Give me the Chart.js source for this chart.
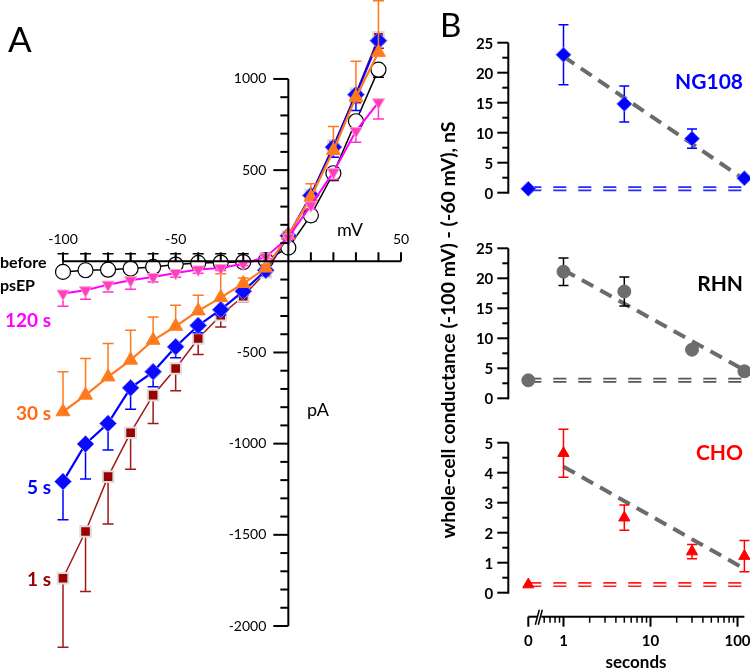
<!DOCTYPE html>
<html><head><meta charset="utf-8">
<script src="https://cdn.jsdelivr.net/npm/chart.js@4.4.1/dist/chart.umd.min.js"></script>
<style>
body{margin:0;width:750px;height:668px;overflow:hidden;background:#fff;font-family:Lato,sans-serif;position:relative;}
canvas{position:absolute;left:0;top:0;}
.l{position:absolute;white-space:nowrap;line-height:1;}
.b{font-weight:bold;}
</style></head><body>
<canvas id="cA" width="750" height="668"></canvas>
<canvas id="cB1" width="750" height="668"></canvas>
<canvas id="cB2" width="750" height="668"></canvas>
<canvas id="cB3" width="750" height="668"></canvas>

<div class="l" style="left:8px;top:21px;font-size:35px;">A</div>
<div class="l" style="left:440px;top:8px;font-size:33px;">B</div>
<div class="l b" style="left:0px;top:262px;transform:translateY(-50%);font-size:16px;">before</div>
<div class="l b" style="left:0px;top:285px;transform:translateY(-50%);font-size:16px;">psEP</div>
<div class="l b" style="left:51px;top:319px;transform:translate(-100%,-50%);font-size:19px;color:#ff00ff;">120 s</div>
<div class="l b" style="left:51px;top:412px;transform:translate(-100%,-50%);font-size:19px;color:#ff6a10;">30 s</div>
<div class="l b" style="left:51px;top:486px;transform:translate(-100%,-50%);font-size:19px;color:#0000ff;">5 s</div>
<div class="l b" style="left:51px;top:578px;transform:translate(-100%,-50%);font-size:19px;color:#990000;">1 s</div>
<div class="l" style="left:350px;top:229px;transform:translate(-50%,-50%);font-size:18px;">mV</div>
<div class="l" style="left:318px;top:409px;transform:translate(-50%,-50%);font-size:18px;">pA</div>
<div class="l b" style="left:743px;top:80px;transform:translate(-100%,-50%);font-size:21px;color:#0000ff;">NG108</div>
<div class="l b" style="left:743px;top:282px;transform:translate(-100%,-50%);font-size:21px;color:#000;">RHN</div>
<div class="l b" style="left:743px;top:451px;transform:translate(-100%,-50%);font-size:21px;color:#ff0000;">CHO</div>
<div class="l b" style="left:636px;top:661px;transform:translate(-50%,-50%);font-size:17px;">seconds</div>
<div class="l b" style="left:448px;top:330px;transform:translate(-50%,-50%) rotate(-90deg);font-size:19.5px;">whole-cell conductance (-100 mV) - (-60 mV), nS</div>

<script>
// ---------- Panel A data ----------
const voltages = [-100,-90,-80,-70,-60,-50,-40,-30,-20,-10,0,10,20,30,40];
const beforeI  = [-58,-49,-46,-40,-31,-18,-9,-7,-4,5,75,252,483,768,1051];
const beforeErr= [100,91,88,82,73,60,51,49,46,38,-20,-30,-40,-40,-42];
const s120I    = [-177,-159,-128,-104,-86,-64,-45,-37,-13,24,131,307,489,714,872];
const s120Err  = [-69,-49,-40,-49,-27,-24,-20,-14,-10,-8,-10,-20,-40,-61,-91];
const s30I     = [-825,-734,-634,-542,-433,-356,-272,-199,-122,-37,142,352,608,900,1146];
const s30Err   = [219,201,183,164,128,115,86,131,30,20,20,73,131,197,283];
const s5I      = [-1208,-1002,-889,-694,-606,-469,-352,-265,-164,-49,140,361,626,914,1210];
const s5Err    = [-210,-192,-146,-118,-82,-60,-40,-30,-20,-10,-20,-27,-55,-87,-80];
const s1I      = [-1738,-1482,-1181,-940,-734,-588,-423,-296,-192,-60,135,365,635,920,1228];
const s1Err    = [-379,-329,-259,-201,-155,-122,-88,-64,-30,-15,-20,-30,-40,-50,-60];

const aXTickLabels = [-100,-50,50];
const aYTickLabels = [1000,500,-500,-1000,-1500,-2000];

// ---------- Panel B data ----------
const times   = [0,1,5,30,120];
const ng108   = [0.65,23.0,14.8,9.0,2.4];
const ng108Err= [0,5.0,3.0,1.6,0.3];
const rhn     = [3.0,21.1,17.8,8.1,4.5];
const rhnErr  = [0,2.3,2.4,0.6,0.3];
const cho     = [0.27,4.65,2.5,1.37,1.22];
const choErr  = [0,0.8,0.42,0.24,0.52];
const fitTimes= [1,120];
const ng108Fit= [22.7,2.2];
const rhnFit  = [21.4,4.7];
const choFit  = [4.2,0.8];
const bXTickLabels = ['0','1','10','100'];
const bXMajor = [1,10,100];
const bXMinor = [0.6,0.7,0.8,0.9,2,3,4,5,6,7,8,9,20,30,40,50,60,70,80,90];

// axis representation of t=0 on the broken log axis
const X0 = 0.394, XMAX = 120;
const tx = t => (t === 0 ? X0 : t);

const pts = (xs, ys) => xs.map((x,i)=>({x:x, y:ys[i]}));

const errPlugin = {
  id:'err',
  beforeDatasetDraw(chart, args){
    const ds = chart.data.datasets[args.index];
    if(!ds.err) return;
    const ctx = chart.ctx, ysc = chart.scales.y, meta = args.meta;
    ctx.save();
    ctx.strokeStyle = ds.errColor || ds.borderColor;
    ctx.lineWidth = ds.errWidth || 1.5;
    const cap = ds.cap || 5.5;
    ds.data.forEach((p,i)=>{
      const e = ds.err[i]; if(!e) return;
      const el = meta.data[i]; const px = el.x, py = el.y;
      const ends = ds.errSym ? [p.y+e, p.y-e] : [p.y+e];
      ends.forEach(v=>{
        const ey = ysc.getPixelForValue(v);
        ctx.beginPath();
        ctx.moveTo(px,py); ctx.lineTo(px,ey);
        ctx.moveTo(px-cap,ey); ctx.lineTo(px+cap,ey);
        ctx.stroke();
      });
    });
    ctx.restore();
  }
};

function line(ctx,x1,y1,x2,y2){ctx.beginPath();ctx.moveTo(x1,y1);ctx.lineTo(x2,y2);ctx.stroke();}

function drawAxesA(chart){
  const {ctx, scales:{x,y}} = chart;
  const x0 = x.getPixelForValue(0), y0 = y.getPixelForValue(0);
  ctx.save();
  ctx.strokeStyle='#000'; ctx.fillStyle='#000'; ctx.lineWidth=2;
  line(ctx, x.getPixelForValue(-100), y0, x.getPixelForValue(50), y0);
  for(let v=-100; v<=50; v+=10){ if(v===0) continue; const px=x.getPixelForValue(v); line(ctx,px,y0,px,y0-9); }
  line(ctx, x0, y.getPixelForValue(1000), x0, y.getPixelForValue(-2000));
  for(let v=-2000; v<=1000; v+=100){ if(v===0) continue; const py=y.getPixelForValue(v); const L = (v%500===0)?15:8; line(ctx,x0-L,py,x0,py); }
  ctx.font='14px Lato'; ctx.textAlign='center'; ctx.textBaseline='middle';
  aXTickLabels.forEach(v=> ctx.fillText(String(v), x.getPixelForValue(v), y0-22));
  ctx.textAlign='right';
  aYTickLabels.forEach(v=> ctx.fillText(String(v), x0-22, y.getPixelForValue(v)));
  ctx.restore();
}

function makeYAxisB(step, labelStep, max, withX){
  return function(chart){
    const {ctx, scales:{x,y}} = chart;
    const ax = x.getPixelForValue(X0) - 20;
    ctx.save();
    ctx.strokeStyle='#000'; ctx.fillStyle='#000'; ctx.lineWidth=2;
    line(ctx, ax, y.getPixelForValue(0)+1, ax, y.getPixelForValue(max));
    ctx.font='bold 15px Lato'; ctx.textAlign='right'; ctx.textBaseline='middle';
    const n = Math.round(max/step);
    for(let i=0;i<=n;i++){
      const v = i*step; const py = y.getPixelForValue(v);
      const major = Math.abs(v/labelStep - Math.round(v/labelStep))<1e-6;
      line(ctx, ax-(major?11:6), py, ax, py);
      if(major) ctx.fillText(String(Math.round(v*100)/100), ax-15, py+1);
    }
    if(withX){
      const ly = chart.chartArea.bottom + 24;
      const xa = x.getPixelForValue(X0), xe = x.getPixelForValue(XMAX);
      line(ctx, xa, ly, xa+9, ly);
      line(ctx, xa+13, ly, xe, ly);
      ctx.lineWidth=1.5;
      line(ctx, xa+7, ly+8, xa+11, ly-7);
      line(ctx, xa+10, ly+8, xa+14, ly-7);
      ctx.lineWidth=2;
      line(ctx, xa, ly, xa, ly+10);
      bXMajor.forEach(t=>{const px=x.getPixelForValue(t); line(ctx,px,ly,px,ly+10);});
      ctx.lineWidth=1.5;
      bXMinor.forEach(t=>{const px=x.getPixelForValue(t); line(ctx,px,ly,px,ly+6);});
      ctx.textAlign='center';
      const pos = [X0].concat(bXMajor);
      bXTickLabels.forEach((s,i)=> ctx.fillText(s, x.getPixelForValue(pos[i]), ly+24));
    }
    ctx.restore();
  };
}

function mkChart(id, pad, xs, ys, datasets, drawAxes){
  return new Chart(document.getElementById(id), {
    type:'scatter',
    data:{datasets},
    options:{
      responsive:false, animation:false, events:[],
      layout:{padding:pad, autoPadding:false},
      plugins:{legend:{display:false}, tooltip:{enabled:false}},
      scales:{x:Object.assign({display:false},xs), y:Object.assign({display:false},ys)}
    },
    plugins:[errPlugin, {id:'axes', afterDraw:drawAxes}]
  });
}

function seriesA(ys, err, opts){
  return Object.assign({
    data: pts(voltages, ys), err: err, showLine:true, clip:false, cap:5.5,
    borderWidth:2, pointBorderWidth:1, tension:0
  }, opts);
}

// ---------- Panel A ----------
// value range extends above the drawn 1000 end of the axis so that all markers lie inside the plot area
mkChart('cA', {left:63, right:349, top:0, bottom:42},
  {type:'linear', min:-100, max:50},
  {type:'linear', min:-2000, max:1433},
  [
    seriesA(s120I, s120Err, {order:0, borderColor:'#ff00ff', errColor:'#ff33cc', pointStyle:'triangle', rotation:180, pointRadius:7, pointBackgroundColor:'#ff3fb8', pointBorderColor:'#ff9ad6'}),
    seriesA(s30I, s30Err, {order:1, borderColor:'#ff7a1f', pointStyle:'triangle', pointRadius:8, pointBackgroundColor:'#ff7a1f', pointBorderColor:'#ff7a1f', borderWidth:2.2}),
    seriesA(s5I, s5Err, {order:2, borderColor:'#0000ff', pointStyle:'rectRot', pointRadius:8.5, pointBackgroundColor:'#0a0aff', pointBorderColor:'#8080ff', borderWidth:2.2}),
    seriesA(beforeI, beforeErr, {order:3, borderColor:'#000', pointStyle:'circle', pointRadius:7.5, pointBackgroundColor:'#fff', pointBorderColor:'#000', borderWidth:1.5, pointBorderWidth:1.2, errWidth:1.5}),
    seriesA(s1I, s1Err, {order:4, borderColor:'#a01818', pointStyle:'rect', pointRadius:7.5, pointBackgroundColor:'#990000', pointBorderColor:'#dcdcdc', pointBorderWidth:2, borderWidth:1.5})
  ], drawAxesA);

// ---------- Panel B ----------
function panelB(id, pad, ymax, step, labelStep, vals, errs, fit, markerOpts, errColor, baseColor, withX){
  const base = vals[0];
  mkChart(id, pad,
    {type:'logarithmic', min:X0, max:XMAX},
    {type:'linear', min:0, max:ymax},
    [
      Object.assign({order:0, data: pts(times.map(tx), vals), err: errs, errSym:true, errColor: errColor, errWidth:1.5, cap:5, clip:false, showLine:false}, markerOpts),
      {order:1, data: pts(fitTimes, fit), showLine:true, borderColor:'#6b6b6b', borderWidth:4, borderDash:[13,8], pointRadius:0, clip:false},
      {order:2, data: [{x:X0,y:base},{x:XMAX,y:base}], showLine:true, borderColor:'#fff', borderWidth:1.6, borderDash:[13,12], pointRadius:0, clip:false},
      {order:3, data: [{x:X0,y:base},{x:XMAX,y:base}], showLine:true, borderColor:baseColor, borderWidth:5, borderDash:[13,12], pointRadius:0, clip:false}
    ], makeYAxisB(step, labelStep, ymax, withX));
}

panelB('cB1', {left:528.3, right:5.6, top:42.7, bottom:475.3}, 25, 2.5, 5, ng108, ng108Err, ng108Fit,
  {pointStyle:'rectRot', pointRadius:7.5, pointBackgroundColor:'#0000ff', pointBorderColor:'#6f6fff', pointBorderWidth:1}, '#0000ff', '#2a2aff', false);
panelB('cB2', {left:528.3, right:5.6, top:248.3, bottom:269.7}, 25, 2.5, 5, rhn, rhnErr, rhnFit,
  {pointStyle:'circle', pointRadius:6.5, pointBackgroundColor:'#6d6d6d', pointBorderColor:'#6d6d6d', pointBorderWidth:1}, '#000', '#555', false);
panelB('cB3', {left:528.3, right:5.6, top:442.7, bottom:75.3}, 5, 0.5, 1, cho, choErr, choFit,
  {pointStyle:'triangle', pointRadius:6.5, pointBackgroundColor:'#ff0000', pointBorderColor:'#ff0000', pointBorderWidth:1}, '#ff0000', '#ff2020', true);
</script>
</body></html>
